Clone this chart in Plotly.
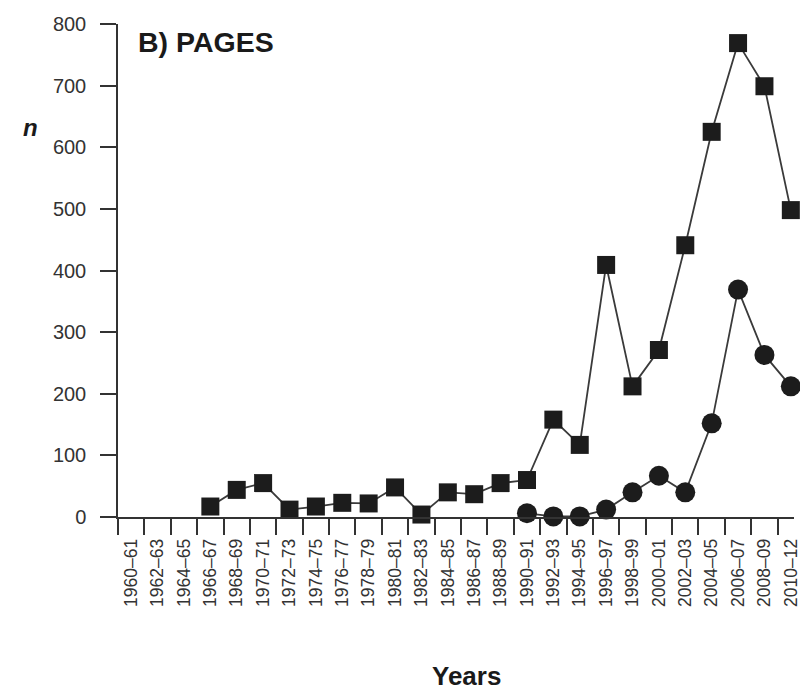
import plotly.graph_objects as go

# Two-year periods on the horizontal axis
periods = [
    "1960–61", "1962–63", "1964–65", "1966–67", "1968–69", "1970–71",
    "1972–73", "1974–75", "1976–77", "1978–79", "1980–81", "1982–83",
    "1984–85", "1986–87", "1988–89", "1990–91", "1992–93", "1994–95",
    "1996–97", "1998–99", "2000–01", "2002–03", "2004–05", "2006–07",
    "2008–09", "2010–12",
]

# Series drawn with square markers
pages_squares = [
    None, None, None, 17, 44, 55, 12, 17, 23, 22, 48, 4,
    40, 37, 55, 60, 158, 117, 409, 212, 271, 441, 625, 769,
    699, 498,
]

# Series drawn with circle markers
pages_circles = [
    None, None, None, None, None, None, None, None, None, None, None, None,
    None, None, None, 6, 1, 1, 12, 40, 67, 40, 152, 369,
    263, 212,
]

y_ticks = [0, 100, 200, 300, 400, 500, 600, 700, 800]

FONT = "Liberation Sans, Arial, Helvetica, sans-serif"
INK = "#1c1c1c"
LINE = "#3a3a3a"

fig = go.Figure()

fig.add_trace(go.Scatter(
    x=periods, y=pages_squares, mode="lines+markers",
    line=dict(color=LINE, width=1.8),
    marker=dict(symbol="square", size=18, color=INK, line=dict(width=0)),
    cliponaxis=False, connectgaps=False, showlegend=False,
))

fig.add_trace(go.Scatter(
    x=periods, y=pages_circles, mode="lines+markers",
    line=dict(color=LINE, width=1.8),
    marker=dict(symbol="circle", size=20, color=INK, line=dict(width=0)),
    cliponaxis=False, connectgaps=False, showlegend=False,
))

fig.update_layout(
    width=800, height=693,
    margin=dict(l=118, r=0, t=24, b=176),
    paper_bgcolor="white", plot_bgcolor="white",
    font=dict(family=FONT, color="#333333"),
    xaxis=dict(
        type="category", categoryorder="array", categoryarray=periods,
        range=[-0.5, 25.12],
        tickson="boundaries", ticks="outside", ticklen=16, tickwidth=1.5,
        tickcolor="#333333", tickangle=-90, tickfont=dict(size=17.5, color="#333333"),
        ticklabelstandoff=13,
        showline=True, linecolor="#333333", linewidth=1.5,
        showgrid=False, zeroline=False,
    ),
    yaxis=dict(
        range=[0, 800], tickvals=y_ticks,
        ticks="outside", ticklen=16, tickwidth=1.5, tickcolor="#333333",
        tickfont=dict(size=20, color="#333333"), ticklabelstandoff=10,
        showline=True, linecolor="#333333", linewidth=1.5,
        showgrid=False, zeroline=False,
    ),
    annotations=[
        dict(text="<b>B) PAGES</b>", xref="paper", yref="paper",
             x=0.027, y=0.963, xanchor="left", yanchor="middle",
             showarrow=False, font=dict(size=28.5, color="#1a1a1a", family=FONT)),
        dict(text="<b><i>n</i></b>", xref="paper", yref="paper",
             x=-0.130, y=0.791, xanchor="center", yanchor="middle",
             showarrow=False, font=dict(size=24, color="#1a1a1a", family=FONT)),
        dict(text="<b>Years</b>", xref="paper", yref="paper",
             x=0.515, y=-0.322, xanchor="center", yanchor="middle",
             showarrow=False, font=dict(size=26, color="#1a1a1a", family=FONT)),
    ],
)

fig.write_html("out.html")
